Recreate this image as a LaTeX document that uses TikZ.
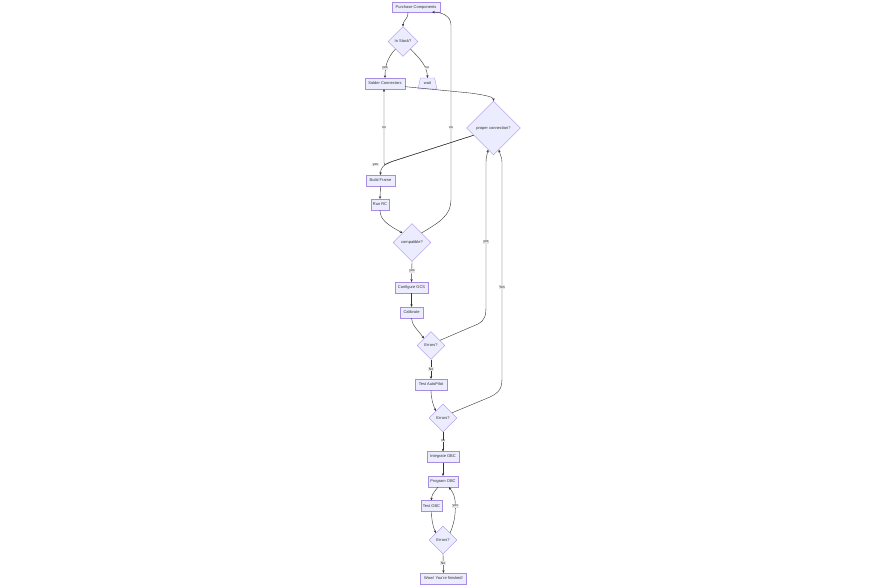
\documentclass[tikz,border=0pt]{standalone}
\usepackage{fontspec}
\setmainfont{Liberation Sans}
\usetikzlibrary{arrows.meta,shapes.geometric,calc}
\definecolor{nfill}{HTML}{ECECFF}
\definecolor{nline}{HTML}{A68CE3}
\definecolor{etext}{HTML}{333333}
\definecolor{lbg}{HTML}{E8E8E8}
\begin{document}
\begin{tikzpicture}[x=1pt,y=-1pt,
  box/.style={rectangle, draw=nline, fill=nfill, line width=0.3pt, inner sep=0pt, text=etext, font=\fontsize{4}{4.5}\selectfont},
  dia/.style={diamond, draw=nline, fill=nfill, line width=0.3pt, inner sep=0pt, text=etext, font=\fontsize{4}{4.5}\selectfont},
  trap/.style={trapezium, trapezium left angle=68, trapezium right angle=68, trapezium stretches=true, draw=nline, fill=nfill, line width=0.3pt, inner sep=0pt, text=etext, font=\fontsize{4}{4.5}\selectfont},
  conn/.style={draw=etext, line width=0.4pt, -{Stealth[length=2.6pt,width=2.4pt]}},
  lbl/.style={fill=lbg, text=etext, inner sep=0.5pt, font=\fontsize{3.5}{4}\selectfont}]
\useasboundingbox (0,0) rectangle (885,587);

% nodes
\node[box,minimum width=48pt,minimum height=10pt] (purchase) at (416,7) {Purchase Components};
\node[dia,minimum width=30pt,minimum height=30pt] (stock) at (403,41.5) {In Stock?};
\node[box,minimum width=40pt,minimum height=11pt] (solder) at (385,83.5) {Solder Connectors};
\node[trap,minimum width=19pt,minimum height=11pt] (wait) at (427.5,83.5) {wait};
\node[dia,minimum width=54pt,minimum height=54pt] (pc) at (493.5,128) {proper connection?};
\node[box,minimum width=29pt,minimum height=11pt] (build) at (380.5,180.5) {Build Frame};
\node[box,minimum width=18pt,minimum height=11pt] (runrc) at (380,204.5) {Run RC};
\node[dia,minimum width=38pt,minimum height=38pt] (compat) at (412,242.5) {compatible?};
\node[box,minimum width=33pt,minimum height=11pt] (gcs) at (411.5,287.5) {Configure GCS};
\node[box,minimum width=23pt,minimum height=11pt] (calib) at (411.5,312.5) {Calibrate};
\node[dia,minimum width=28pt,minimum height=28pt] (err1) at (431,345.5) {Errors?};
\node[box,minimum width=32pt,minimum height=11pt] (tap) at (431,384.5) {Test AutoPilot};
\node[dia,minimum width=28pt,minimum height=28pt] (err2) at (443,418) {Errors?};
\node[box,minimum width=32pt,minimum height=11pt] (iobc) at (443,457) {Integrate OBC};
\node[box,minimum width=30pt,minimum height=11pt] (pobc) at (443,481.5) {Program OBC};
\node[box,minimum width=21pt,minimum height=11pt] (tobc) at (431.5,506) {Test OBC};
\node[dia,minimum width=28pt,minimum height=28pt] (err3) at (443,540) {Errors?};
\node[box,minimum width=46pt,minimum height=11pt] (wow) at (443.5,578.5) {Wow! You're finished!};

% connectors
\draw[conn] ($(purchase.south)+(-8,0)$) .. controls (408,20) and (403,20) .. (stock.north);
\draw[conn] (stock.225) .. controls (388,57) and (385,65) .. (solder.north);
\draw[conn] (stock.-45) .. controls (418,57) and (427,65) .. (wait.north);
\draw[conn] ($(solder.south east)+(0,-2.5)$) -- (470,93) .. controls (485,95) and (493.5,97) .. (pc.north);
\draw[conn] (pc.200) -- (392,161.5) .. controls (382,165) and (380.5,169) .. (build.north);
\draw[conn] (pc.200) -- (392,161.5) .. controls (383,165) and (384,168) .. (384,156) -- (solder.south -| 384,0);
\draw[conn] (build.south) -- (runrc.north);
\draw[conn] (runrc.south) .. controls (380,220) and (388,225) .. (compat.135);
\draw[conn] (compat.45) .. controls (440,222) and (451,215) .. (451,200) -- (451,25) .. controls (451,15) and (440,12) .. ($(purchase.south east)+(-8,0)$);
\draw[conn] (compat.south) -- (gcs.north);
\draw[conn] (gcs.south) -- (calib.north);
\draw[conn] (calib.south) .. controls (411.5,325) and (418,330) .. (err1.135);
\draw[conn] (err1.30) -- (478,324) .. controls (485,320) and (486,316) .. (486,305) -- (486,162) .. controls (486,157) and (487,155) .. (pc.256);
\draw[conn] (err1.south) -- (tap.north);
\draw[conn] (tap.south) .. controls (431,398) and (433,405) .. (err2.135);
\draw[conn] (err2.30) -- (490,397) .. controls (500,392) and (502,388) .. (502,378) -- (502,162) .. controls (502,157) and (500,155) .. (pc.284);
\draw[conn] (err2.south) -- (iobc.north);
\draw[conn] (iobc.south) -- (pobc.north);
\draw[conn] ($(pobc.south)+(-5,0)$) .. controls (434,492) and (431.5,495) .. (tobc.north);
\draw[conn] (tobc.south) .. controls (431.5,520) and (433,527) .. (err3.135);
\draw[conn] (err3.45) .. controls (455,522) and (456,510) .. (455,500) .. controls (454,493) and (451,490) .. ($(pobc.south)+(6,0)$);
\draw[conn] (err3.south) -- (wow.north);

% labels
\node[lbl] (l1) at (385,68) {yes};
\node[lbl] (l2) at (427,68) {no};
\node[lbl] (l3) at (375.5,164.5) {yes};
\node[lbl] (l4) at (384,128) {no};
\node[lbl] (l5) at (451,128) {no};
\node[lbl] (l6) at (412,271) {yes};
\node[lbl] (l7) at (486,242) {yes};
\node[lbl] (l8) at (431,369) {No};
\node[lbl] (l9) at (502,287) {Yes};
\node[lbl] (l10) at (443,441) {no};
\node[lbl] (l11) at (455.3,506) {yes};
\node[lbl] (l12) at (443,563) {No};
\end{tikzpicture}
\end{document}
